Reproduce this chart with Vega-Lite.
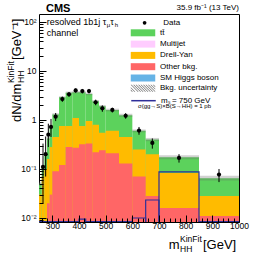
{
"$schema": "https://vega.github.io/schema/vega-lite/v6.json",
"width": 200, "height": 208,
"autosize": "none",
"padding": {"left": 39, "top": 14, "right": 27, "bottom": 33},
"config": {"font": "Liberation Sans", "view": {"stroke": "black", "strokeWidth": 1},
  "axis": {"domain": false, "grid": false, "tickColor": "black", "labelFont": "Liberation Sans", "labelFontSize": 8.5, "labelColor": "black", "title": null, "labelFlush": false, "labelOverlap": false},
  "legend": {"title": null, "padding": 0, "labelFont": "Liberation Sans", "labelFontSize": 8, "labelColor": "black", "labelLimit": 200, "orient": "none", "symbolOpacity": 1}},
"resolve": {"axis": {"x": "independent"}},
"datasets": {
 "stack": [
  {"lo":250,"hi":260,"process":"tt̄","order":3,"value":0.02},{"lo":250,"hi":260,"process":"Drell-Yan","order":2,"value":0.026},{"lo":250,"hi":260,"process":"Other bkg.","order":1,"value":0.004},
  {"lo":260,"hi":270,"process":"tt̄","order":3,"value":0.04},{"lo":260,"hi":270,"process":"Drell-Yan","order":2,"value":0.065},{"lo":260,"hi":270,"process":"Other bkg.","order":1,"value":0.005},
  {"lo":270,"hi":280,"process":"tt̄","order":3,"value":0.10},{"lo":270,"hi":280,"process":"Drell-Yan","order":2,"value":0.092},{"lo":270,"hi":280,"process":"Other bkg.","order":1,"value":0.008},
  {"lo":280,"hi":290,"process":"tt̄","order":3,"value":0.26},{"lo":280,"hi":290,"process":"Drell-Yan","order":2,"value":0.14},{"lo":280,"hi":290,"process":"Other bkg.","order":1,"value":0.02},
  {"lo":290,"hi":300,"process":"tt̄","order":3,"value":0.42},{"lo":290,"hi":300,"process":"Drell-Yan","order":2,"value":0.25},{"lo":290,"hi":300,"process":"Other bkg.","order":1,"value":0.03},
  {"lo":300,"hi":325,"process":"tt̄","order":3,"value":0.85},{"lo":300,"hi":325,"process":"Drell-Yan","order":2,"value":0.36},{"lo":300,"hi":325,"process":"Other bkg.","order":1,"value":0.09},
  {"lo":325,"hi":350,"process":"tt̄","order":3,"value":2.15},{"lo":325,"hi":350,"process":"Drell-Yan","order":2,"value":0.63},{"lo":325,"hi":350,"process":"Other bkg.","order":1,"value":0.12},
  {"lo":350,"hi":375,"process":"tt̄","order":3,"value":2.85},{"lo":350,"hi":375,"process":"Drell-Yan","order":2,"value":0.47},{"lo":350,"hi":375,"process":"Other bkg.","order":1,"value":0.28},
  {"lo":375,"hi":400,"process":"tt̄","order":3,"value":2.6},{"lo":375,"hi":400,"process":"Drell-Yan","order":2,"value":0.83},{"lo":375,"hi":400,"process":"Other bkg.","order":1,"value":0.27},
  {"lo":400,"hi":425,"process":"tt̄","order":3,"value":2.95},{"lo":400,"hi":425,"process":"Drell-Yan","order":2,"value":0.43},{"lo":400,"hi":425,"process":"Other bkg.","order":1,"value":0.32},
  {"lo":425,"hi":450,"process":"tt̄","order":3,"value":2.45},{"lo":425,"hi":450,"process":"Drell-Yan","order":2,"value":0.62},{"lo":425,"hi":450,"process":"Other bkg.","order":1,"value":0.33},
  {"lo":450,"hi":475,"process":"tt̄","order":3,"value":1.6},{"lo":450,"hi":475,"process":"Drell-Yan","order":2,"value":0.58},{"lo":450,"hi":475,"process":"Other bkg.","order":1,"value":0.22},
  {"lo":475,"hi":500,"process":"tt̄","order":3,"value":1.35},{"lo":475,"hi":500,"process":"Drell-Yan","order":2,"value":0.31},{"lo":475,"hi":500,"process":"Other bkg.","order":1,"value":0.24},
  {"lo":500,"hi":550,"process":"tt̄","order":3,"value":1.0},{"lo":500,"hi":550,"process":"Drell-Yan","order":2,"value":0.39},{"lo":500,"hi":550,"process":"Other bkg.","order":1,"value":0.21},
  {"lo":550,"hi":600,"process":"tt̄","order":3,"value":0.8},{"lo":550,"hi":600,"process":"Drell-Yan","order":2,"value":0.32},{"lo":550,"hi":600,"process":"Other bkg.","order":1,"value":0.13},
  {"lo":600,"hi":650,"process":"tt̄","order":3,"value":0.35},{"lo":600,"hi":650,"process":"Drell-Yan","order":2,"value":0.18},{"lo":600,"hi":650,"process":"Other bkg.","order":1,"value":0.07},
  {"lo":650,"hi":700,"process":"tt̄","order":3,"value":0.2},{"lo":650,"hi":700,"process":"Drell-Yan","order":2,"value":0.172},{"lo":650,"hi":700,"process":"Other bkg.","order":1,"value":0.028},
  {"lo":700,"hi":850,"process":"tt̄","order":3,"value":0.09},{"lo":700,"hi":850,"process":"Drell-Yan","order":2,"value":0.067},{"lo":700,"hi":850,"process":"Other bkg.","order":1,"value":0.016},
  {"lo":850,"hi":1000,"process":"tt̄","order":3,"value":0.037},{"lo":850,"hi":1000,"process":"Drell-Yan","order":2,"value":0.017},{"lo":850,"hi":1000,"process":"Other bkg.","order":1,"value":0.011}
 ],
 "bins": [
  {"lo":250,"hi":260,"m":255,"data":null,"dlo":null,"dhi":null,"sig":0.0084,"ulo":0.045,"uhi":0.055},
  {"lo":260,"hi":270,"m":265,"data":0.11,"dlo":0.02,"dhi":0.33,"sig":0.0084,"ulo":0.10,"uhi":0.12},
  {"lo":270,"hi":280,"m":275,"data":0.2,"dlo":0.07,"dhi":0.46,"sig":0.0084,"ulo":0.185,"uhi":0.215},
  {"lo":280,"hi":290,"m":285,"data":0.5,"dlo":0.28,"dhi":0.84,"sig":0.0084,"ulo":0.39,"uhi":0.45},
  {"lo":290,"hi":300,"m":295,"data":0.72,"dlo":0.45,"dhi":1.05,"sig":0.0084,"ulo":0.65,"uhi":0.75},
  {"lo":300,"hi":325,"m":312.5,"data":1.17,"dlo":0.95,"dhi":1.39,"sig":0.0084,"ulo":1.22,"uhi":1.38},
  {"lo":325,"hi":350,"m":337.5,"data":2.68,"dlo":2.35,"dhi":3.01,"sig":0.0084,"ulo":2.75,"uhi":3.05},
  {"lo":350,"hi":375,"m":362.5,"data":3.35,"dlo":2.98,"dhi":3.72,"sig":0.0084,"ulo":3.4,"uhi":3.8},
  {"lo":375,"hi":400,"m":387.5,"data":4.0,"dlo":3.6,"dhi":4.4,"sig":0.0084,"ulo":3.5,"uhi":3.9},
  {"lo":400,"hi":425,"m":412.5,"data":3.9,"dlo":3.5,"dhi":4.3,"sig":0.0095,"ulo":3.5,"uhi":3.9},
  {"lo":425,"hi":450,"m":437.5,"data":3.9,"dlo":3.5,"dhi":4.3,"sig":0.0084,"ulo":3.2,"uhi":3.6},
  {"lo":450,"hi":475,"m":462.5,"data":2.3,"dlo":2.0,"dhi":2.6,"sig":0.0084,"ulo":2.25,"uhi":2.55},
  {"lo":475,"hi":500,"m":487.5,"data":1.73,"dlo":1.47,"dhi":1.99,"sig":0.0084,"ulo":1.78,"uhi":2.02},
  {"lo":500,"hi":550,"m":525,"data":1.6,"dlo":1.42,"dhi":1.78,"sig":0.0084,"ulo":1.5,"uhi":1.7},
  {"lo":550,"hi":600,"m":575,"data":1.22,"dlo":1.06,"dhi":1.38,"sig":0.0084,"ulo":1.16,"uhi":1.34},
  {"lo":600,"hi":650,"m":625,"data":0.61,"dlo":0.5,"dhi":0.72,"sig":0.0100,"ulo":0.56,"uhi":0.64},
  {"lo":650,"hi":700,"m":675,"data":0.34,"dlo":0.26,"dhi":0.42,"sig":0.0233,"ulo":0.37,"uhi":0.43},
  {"lo":700,"hi":850,"m":775,"data":0.168,"dlo":0.135,"dhi":0.201,"sig":0.0877,"ulo":0.158,"uhi":0.19},
  {"lo":850,"hi":1000,"m":925,"data":0.077,"dlo":0.054,"dhi":0.1,"sig":0.0084,"ulo":0.058,"uhi":0.073}
 ]
},
"layer": [
 {
  "data": {"name": "stack"},
  "transform": [{"window": [{"op": "sum", "field": "value", "as": "top"}], "groupby": ["lo"], "sort": [{"field": "order"}]}],
  "mark": {"type": "bar", "clip": true, "stroke": null},
  "encoding": {
   "x": {"field": "lo", "type": "quantitative", "scale": {"domain": [250, 1000], "nice": false, "zero": false},
     "axis": {"orient": "bottom", "values": [300,400,500,600,700,800,900,1000], "format": "d", "tickSize": -7, "labelPadding": 6, "labelOverlap": false, "labelBound": false, "zindex": 1}},
   "x2": {"field": "hi"},
   "y": {"field": "top", "type": "quantitative", "scale": {"type": "log", "domain": [0.00828, 145.6], "nice": false},
     "axis": {"values": [0.009,0.01,0.02,0.03,0.04,0.05,0.06,0.07,0.08,0.09,0.1,0.2,0.3,0.4,0.5,0.6,0.7,0.8,0.9,1,2,3,4,5,6,7,8,9,10,20,30,40,50,60,70,80,90,100],
       "labelExpr": "datum.value===0.01?'10⁻²':datum.value===0.1?'10⁻¹':datum.value===1?'1':datum.value===10?'10':datum.value===100?'10²':''",
       "tickSize": {"condition": {"test": "datum.value===0.01||datum.value===0.1||datum.value===1||datum.value===10||datum.value===100", "value": -7}, "value": -4},
       "labelPadding": 10, "labelOverlap": false, "zindex": 1}},
   "y2": {"datum": 0.0001},
   "color": {"field": "process", "type": "nominal",
     "scale": {"domain": ["tt̄", "Multijet", "Drell-Yan", "Other bkg.", "SM Higgs boson"],
       "range": ["#5cd25c", "#ffccff", "#ffbb00", "#ff6666", "#66b3e6"]},
     "legend": {"legendX": 100, "legendY": 14.8, "symbolSize": 49, "symbolType": "M-3.5,-1H3.5V1H-3.5Z", "symbolStrokeWidth": 0, "labelOffset": 13, "rowPadding": 3.3}},
   "order": {"field": "top", "sort": "descending"}
  }
 },
 {
  "data": {"name": "bins"},
  "mark": {"type": "bar", "clip": true, "opacity": 0.3},
  "encoding": {"x": {"field": "lo", "type": "quantitative",
      "axis": {"orient": "bottom", "values": [260,280,320,340,360,380,420,440,460,480,520,540,560,580,620,640,660,680,720,740,760,780,820,840,860,880,920,940,960,980], "labels": false, "tickSize": -4, "zindex": 1, "labelOverlap": false}},
    "x2": {"field": "hi"}, "y": {"field": "ulo", "type": "quantitative"}, "y2": {"field": "uhi"},
    "fill": {"datum": "Bkg. uncertainty", "type": "nominal", "scale": {"range": ["#666666"]},
      "legend": {"legendX": 100, "legendY": 70.2, "symbolSize": 49, "labelOffset": 13, "symbolOpacity": 1, "symbolStrokeWidth": 0,
        "symbolType": "M-3.5,-1L-3.25,-1L-1.25,1L-1.5,1ZM-2.8,-1L-2.55,-1L-0.55,1L-0.8,1ZM-2.1,-1L-1.85,-1L0.15,1L-0.1,1ZM-1.4,-1L-1.15,-1L0.85,1L0.6,1ZM-0.7,-1L-0.45,-1L1.55,1L1.3,1ZM0,-1L0.25,-1L2.25,1L2,1ZM0.7,-1L0.95,-1L2.95,1L2.7,1ZM1.4,-1L1.65,-1L3.5,0.85L3.5,1L3.4,1ZM2.1,-1L2.35,-1L3.5,0.15L3.5,0.4ZM2.8,-1L3.05,-1L3.5,-0.55L3.5,-0.3ZM-3.5,-0.3L-2.2,1L-2.45,1L-3.5,-0.05ZM-3.5,0.4L-2.9,1L-3.15,1L-3.5,0.65Z"}}}
 },
 {
  "data": {"name": "bins"},
  "mark": {"type": "bar", "clip": true, "filled": false, "strokeWidth": 1.2},
  "encoding": {"x": {"field": "lo", "type": "quantitative", "axis": null}, "x2": {"field": "hi"}, "y": {"field": "sig", "type": "quantitative"}, "y2": {"datum": 0.0001},
    "stroke": {"datum": "mₛ = 750 GeV", "type": "nominal", "scale": {"range": ["#2e2e99"]},
      "legend": {"legendX": 100, "legendY": 82.2, "symbolSize": 49, "labelOffset": 13, "symbolType": "M-3.5,0H3.5", "symbolStrokeWidth": 1.5}}}
 },
 {
  "data": {"name": "bins"},
  "mark": {"type": "rule", "color": "black", "strokeWidth": 1},
  "encoding": {"x": {"field": "m", "type": "quantitative", "axis": null}, "y": {"field": "dlo", "type": "quantitative"}, "y2": {"field": "dhi"}}
 },
 {
  "data": {"name": "bins"},
  "mark": {"type": "point", "filled": true, "color": "black", "size": 18, "opacity": 1},
  "encoding": {"x": {"field": "m", "type": "quantitative", "axis": null}, "y": {"field": "data", "type": "quantitative"},
    "shape": {"datum": "Data", "type": "nominal", "scale": {"range": ["circle"]},
      "legend": {"legendX": 101.6, "legendY": 4.8, "symbolSize": 14, "symbolFillColor": "black", "labelOffset": 14.7}}}
 },
 {"data": {"values": [{}]}, "mark": {"type": "text", "text": "σ(gg→S)×B(S→HH) = 1 pb", "fontSize": 6, "align": "left", "baseline": "alphabetic"}, "encoding": {"x": {"datum": 621, "axis": null}, "y": {"datum": 1.72}}},
 {"data": {"values": [{}]}, "mark": {"type": "text", "text": "CMS", "font": "Liberation Sans", "fontWeight": "bold", "fontSize": 11, "align": "left", "baseline": "alphabetic"}, "encoding": {"x": {"datum": 276, "axis": null}, "y": {"datum": 160}}},
 {"data": {"values": [{}]}, "mark": {"type": "text", "text": "35.9 fb⁻¹ (13 TeV)", "fontSize": 8, "align": "right", "baseline": "alphabetic"}, "encoding": {"x": {"datum": 1000, "axis": null}, "y": {"datum": 176}}},
 {"data": {"values": [{}]}, "mark": {"type": "text", "text": "resolved 1b1j τ", "fontSize": 9, "align": "left", "baseline": "alphabetic"}, "encoding": {"x": {"datum": 279, "axis": null}, "y": {"datum": 84.9}}},
 {"data": {"values": [{}]}, "mark": {"type": "text", "text": "μ", "fontSize": 6, "align": "left", "baseline": "alphabetic", "dx": 60, "dy": 2}, "encoding": {"x": {"datum": 279, "axis": null}, "y": {"datum": 84.9}}},
 {"data": {"values": [{}]}, "mark": {"type": "text", "text": "τ", "fontSize": 9, "align": "left", "baseline": "alphabetic", "dx": 63.5}, "encoding": {"x": {"datum": 279, "axis": null}, "y": {"datum": 84.9}}},
 {"data": {"values": [{}]}, "mark": {"type": "text", "text": "h", "fontSize": 6, "align": "left", "baseline": "alphabetic", "dx": 68, "dy": 2}, "encoding": {"x": {"datum": 279, "axis": null}, "y": {"datum": 84.9}}},
 {"data": {"values": [{}]}, "mark": {"type": "text", "text": "channel", "fontSize": 9, "align": "left", "baseline": "alphabetic"}, "encoding": {"x": {"datum": 279, "axis": null}, "y": {"datum": 53}}},
 {"data": {"values": [{}]}, "mark": {"type": "text", "text": "dN/dm", "fontSize": 13, "angle": 270, "align": "left", "baseline": "alphabetic"}, "encoding": {"x": {"datum": 182.5, "axis": null}, "y": {"datum": 0.91}}},
 {"data": {"values": [{}]}, "mark": {"type": "text", "text": "KinFit", "fontSize": 8.5, "angle": 270, "align": "left", "baseline": "alphabetic"}, "encoding": {"x": {"datum": 156.25, "axis": null}, "y": {"datum": 5.69}}},
 {"data": {"values": [{}]}, "mark": {"type": "text", "text": "HH", "fontSize": 8.5, "angle": 270, "align": "left", "baseline": "alphabetic"}, "encoding": {"x": {"datum": 193.75, "axis": null}, "y": {"datum": 5.69}}},
 {"data": {"values": [{}]}, "mark": {"type": "text", "text": "[GeV⁻¹]", "fontSize": 13, "angle": 270, "align": "left", "baseline": "alphabetic"}, "encoding": {"x": {"datum": 182.5, "axis": null}, "y": {"datum": 16.7}}},
 {"data": {"values": [{}]}, "mark": {"type": "text", "text": "m", "fontSize": 13, "align": "left", "baseline": "alphabetic"}, "encoding": {"x": {"datum": 737, "axis": null}, "y": {"datum": 0.00233}}},
 {"data": {"values": [{}]}, "mark": {"type": "text", "text": "KinFit", "fontSize": 8.5, "align": "left", "baseline": "alphabetic"}, "encoding": {"x": {"datum": 779, "axis": null}, "y": {"datum": 0.00324}}},
 {"data": {"values": [{}]}, "mark": {"type": "text", "text": "HH", "fontSize": 8.5, "align": "left", "baseline": "alphabetic"}, "encoding": {"x": {"datum": 779, "axis": null}, "y": {"datum": 0.00202}}},
 {"data": {"values": [{}]}, "mark": {"type": "text", "text": "[GeV]", "fontSize": 13, "align": "left", "baseline": "alphabetic"}, "encoding": {"x": {"datum": 865, "axis": null}, "y": {"datum": 0.00233}}}
]
}
